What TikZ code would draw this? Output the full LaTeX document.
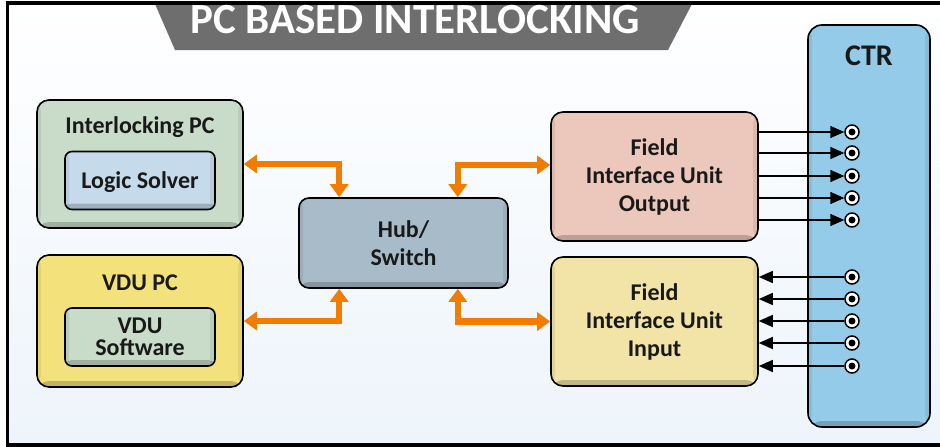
\documentclass[tikz,border=0pt]{standalone}
\usepackage{fontspec}
\setmainfont{Carlito}
\usepackage{xcolor}
\usepackage{tikz}
\usetikzlibrary{positioning,calc,arrows.meta}
\definecolor{sage}{HTML}{C8DCC9}
\definecolor{iceblue}{HTML}{C5DBEB}
\definecolor{vduyellow}{HTML}{F3E27B}
\definecolor{hubgray}{HTML}{A8BBC8}
\definecolor{fiupink}{HTML}{ECC8BC}
\definecolor{fiucream}{HTML}{F1E4A6}
\definecolor{ctrblue}{HTML}{93CBE8}
\definecolor{myorange}{HTML}{F07D00}
\definecolor{bannergray}{HTML}{6E6E6E}
\definecolor{bgblue}{HTML}{EDF4FB}
\tikzset{
  bevel/.style  = {path picture={
      \fill[black, opacity=.2] ([yshift=6pt]path picture bounding box.south west)
        rectangle (path picture bounding box.south east);
      \fill[black, opacity=.07] ([xshift=-5pt]path picture bounding box.north east)
        rectangle (path picture bounding box.south east);
      \fill[black, opacity=.07] (path picture bounding box.north west)
        rectangle ([xshift=4pt]path picture bounding box.south west);}},
  basic/.style  = {draw, line width=1.6pt, font=\bfseries\fontsize{24}{28}\selectfont,
                   align=center, text=black!90, bevel},
  pcbox/.style  = {basic, rounded corners=12pt, minimum width=206pt},
  subbox/.style = {basic, rounded corners=7pt, minimum width=150pt, minimum height=58pt},
  fiubox/.style = {basic, rounded corners=12pt, minimum width=207pt, minimum height=129pt},
  boxlabel/.style = {font=\bfseries\fontsize{24}{28}\selectfont, text=black!90, anchor=base},
  link/.style   = {{Triangle[length=13pt,width=18pt]}-{Triangle[length=13pt,width=18pt]},
                   line width=6.5pt, draw=myorange},
  wire/.style   = {-{Triangle[length=14pt,width=12pt]}, line width=1.5pt},
  terminal/.style = {circle, draw, line width=1.5pt, fill=white, minimum size=14pt,
                   inner sep=0pt}
}

\begin{document}
\begin{tikzpicture}[x=1pt,y=-1pt]
  \useasboundingbox (0,0) rectangle (940,447);
  % frame and heading
  \shade[top color=white, bottom color=bgblue] (7,3) rectangle (945,445);
  \fill[bannergray] (155,4) -- (692,4) -- (668,50) -- (175,50) -- cycle;
  \draw[line width=3.5pt] (945,3) -- (7.5,3) -- (7.5,445) -- (945,445);
  \node[anchor=base, text=white, font=\bfseries\fontsize{43}{45}\selectfont]
    (heading) at (415,33) {PC BASED INTERLOCKING};

  % PCs on the left
  \node[pcbox, fill=sage, minimum height=128pt] (ilpc) at (140,164) {};
  \node[boxlabel] (ilpc-label) at (140,133) {Interlocking PC};
  \node[subbox, fill=iceblue, text height=15.5pt, text depth=0pt] (lsolv) at (140,180.5) {Logic Solver};
  \node[pcbox, fill=vduyellow, minimum height=132pt] (vdupc) at (140,321) {};
  \node[boxlabel] (vdupc-label) at (140,290) {VDU PC};
  \node[subbox, fill=sage, font=\bfseries\fontsize{24}{22.5}\selectfont] (vdusw) at (140,337) {VDU\\Software};

  % hub and field units
  \node[basic, fill=hubgray, rounded corners=10pt, minimum width=209pt, minimum height=90pt]
    (hub) at (403.5,243) {Hub/\\Switch};
  \node[fiubox, fill=fiupink] (fiuo) at (654.5,176.5) {Field\\Interface Unit\\Output};
  \node[fiubox, fill=fiucream] (fiui) at (654.5,321.5) {Field\\Interface Unit\\Input};

  % CTR
  \node[basic, fill=ctrblue, rounded corners=14pt, minimum width=122pt, minimum height=402pt]
    (ctr) at (869,226) {};
  \node[boxlabel, font=\bfseries\fontsize{30}{32}\selectfont] (ctr-label) at (869,65) {CTR};

  % network links
  \draw[link] (ilpc.east) -| ([xshift=41pt]hub.north west);
  \draw[link] (vdupc.east) -| ([xshift=41pt]hub.south west);
  \draw[link] ([yshift=11.5pt]fiuo.west) -| ([xshift=-51pt]hub.north east);
  \draw[link] (fiui.west) -| ([xshift=-51pt]hub.south east);

  % terminals
  \foreach \y [count=\i] in {132,153,176,198,220} {
    \node[terminal] (o\i) at (852,\y) {};
    \fill (o\i.center) circle (3.5pt);
    \draw[wire] (fiuo.east |- o\i) -- (o\i);
  }
  \foreach \y [count=\i] in {277,299,321,343,366} {
    \node[terminal] (i\i) at (852,\y) {};
    \fill (i\i.center) circle (3.5pt);
    \draw[wire] (i\i) -- (fiui.east |- i\i);
  }
\end{tikzpicture}
\end{document}
